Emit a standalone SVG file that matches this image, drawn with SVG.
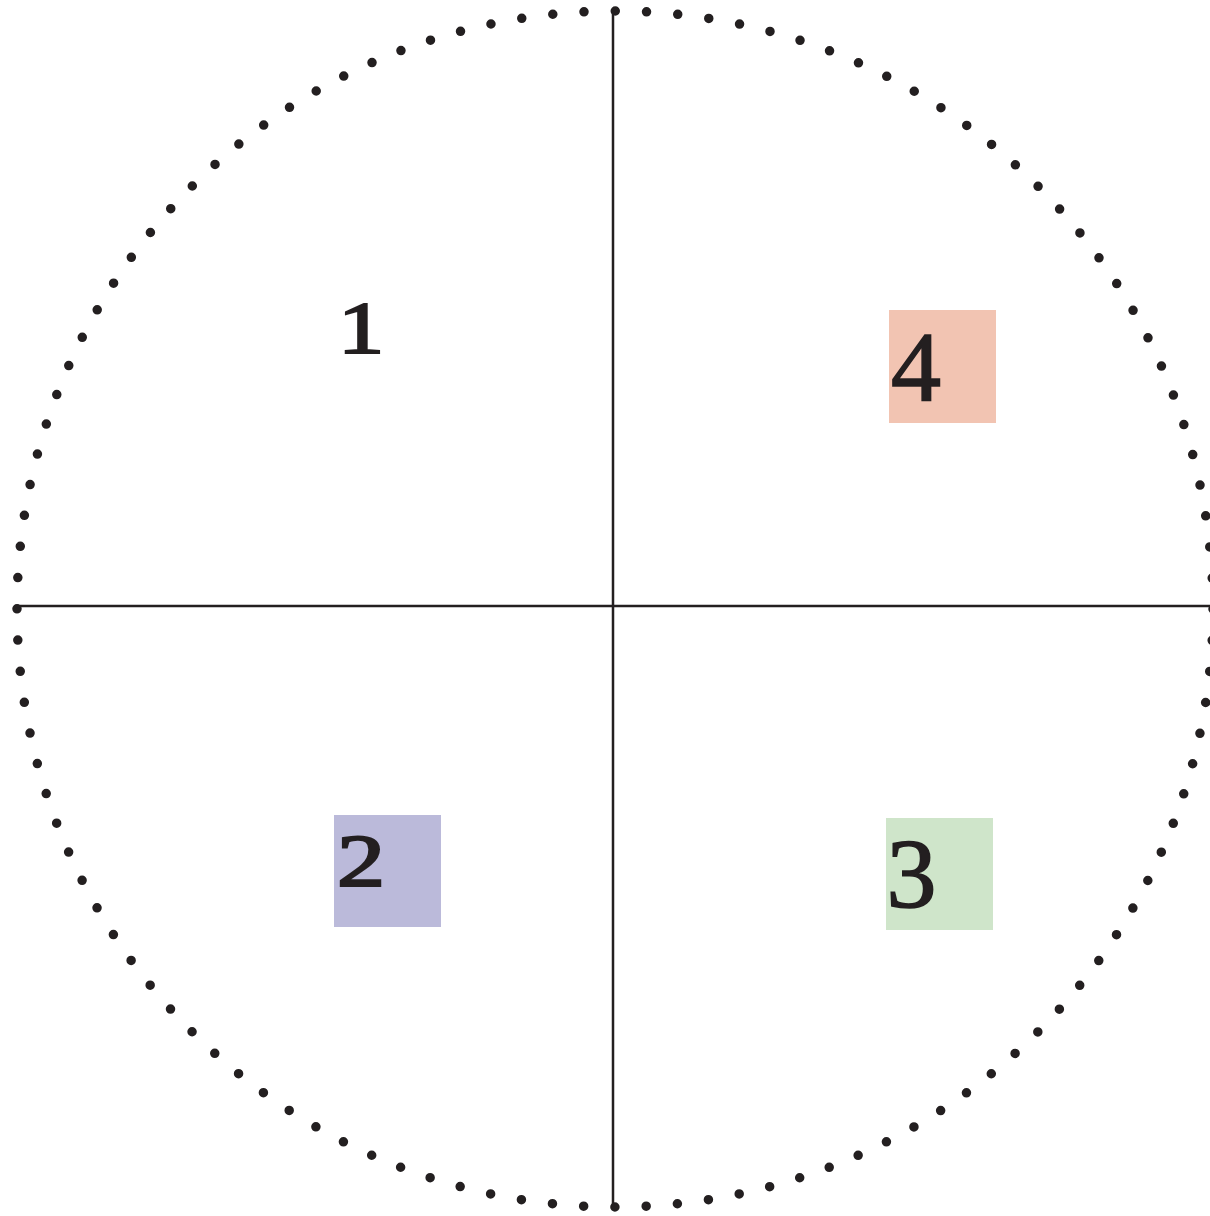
<svg xmlns="http://www.w3.org/2000/svg" width="1210" height="1216" viewBox="0 0 1210 1216">
  <style>
    .num { font-family: "Liberation Serif", "DejaVu Serif", serif; fill: #231f20; stroke: #231f20; text-anchor: middle; }
    .small { font-size: 74px; stroke-width: 2.2; }
    .big { font-size: 100px; stroke-width: 1.6; }
    .axis { stroke: #231f20; stroke-width: 2.5; fill: none; }
  </style>
  <rect width="1210" height="1216" fill="#ffffff"/>
  <g id="boundary">
    <circle cx="615" cy="609" r="598" fill="none" stroke="#231f20" stroke-width="9.5" stroke-linecap="round" stroke-dasharray="0 31.311"/>
  </g>
  <g id="connectors">
    <line class="axis" x1="613" y1="11" x2="613" y2="1207"/>
    <line class="axis" x1="17" y1="606" x2="1210" y2="606"/>
  </g>
  <g id="node-1">
    <text class="num small" transform="translate(361 353) scale(1.25 1)" x="0" y="0">1</text>
  </g>
  <g id="node-4">
    <rect x="889" y="310" width="107" height="113" fill="#f2c4b2"/>
    <text class="num big" x="916" y="400">4</text>
  </g>
  <g id="node-2">
    <rect x="334" y="815" width="107" height="112" fill="#bbbada"/>
    <text class="num small" transform="translate(361 886) scale(1.3 1)" x="0" y="0">2</text>
  </g>
  <g id="node-3">
    <rect x="886" y="818" width="107" height="112" fill="#cfe5ca"/>
    <text class="num big" x="911.5" y="907">3</text>
  </g>
</svg>
